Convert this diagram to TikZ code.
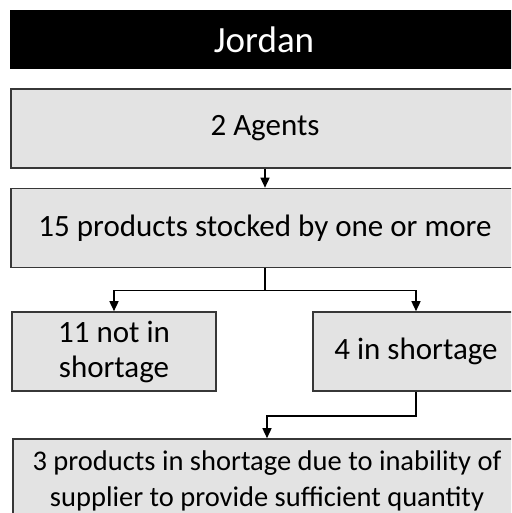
\documentclass[tikz,border=0pt]{standalone}
\usepackage{fontspec}
\setmainfont{Carlito}
\usetikzlibrary{arrows.meta, positioning}
\definecolor{boxgray}{RGB}{227,227,227}
\definecolor{edgegray}{RGB}{55,55,55}
\tikzset{
  flowbox/.style={draw=edgegray, fill=boxgray, line width=1.6pt,
                  minimum height=79pt, inner sep=0pt, align=center,
                  font=\fontsize{31}{35}\selectfont},
  flowline/.style={line width=1.5pt, -{Triangle[length=10pt,width=9pt]}}
}
\begin{document}
\begin{tikzpicture}[x=1pt, y=-1pt]
    \clip (0,0) rectangle (511,513);
    \fill[white] (0,0) rectangle (511,513);
    \node[fill=black, text=white, minimum width=508pt, minimum height=59pt,
      inner sep=0pt, font=\fontsize{37}{42}\selectfont] (title) at (264,39.5) {Jordan};
    \node[flowbox, minimum width=508pt] (agents) at (265,128.5) {2 Agents};
    \node[flowbox, minimum width=508pt] (stocked) at (265,228)
      {15 products stocked by one or more};
    \node[flowbox, minimum width=204pt] (noshort) at (114,351.5) {11 not in\\shortage};
    \node[flowbox, minimum width=206pt] (short) at (416,351.5) {4 in shortage};
    \node[flowbox, minimum width=508pt, minimum height=84pt,
      font=\fontsize{28.5}{36}\selectfont] (supplier) at (267,481)
      {3 products in shortage due to inability of\\supplier to provide sufficient quantity};
    \draw[flowline] (agents) -- (stocked);
    \draw[flowline] (stocked.south) -- ++(0,22) -| (noshort.north);
    \draw[flowline] (stocked.south) -- ++(0,22) -| (short.north);
    \draw[flowline] (short.south) -- ++(0,24) -| (supplier.north);
  \end{tikzpicture}
\end{document}
